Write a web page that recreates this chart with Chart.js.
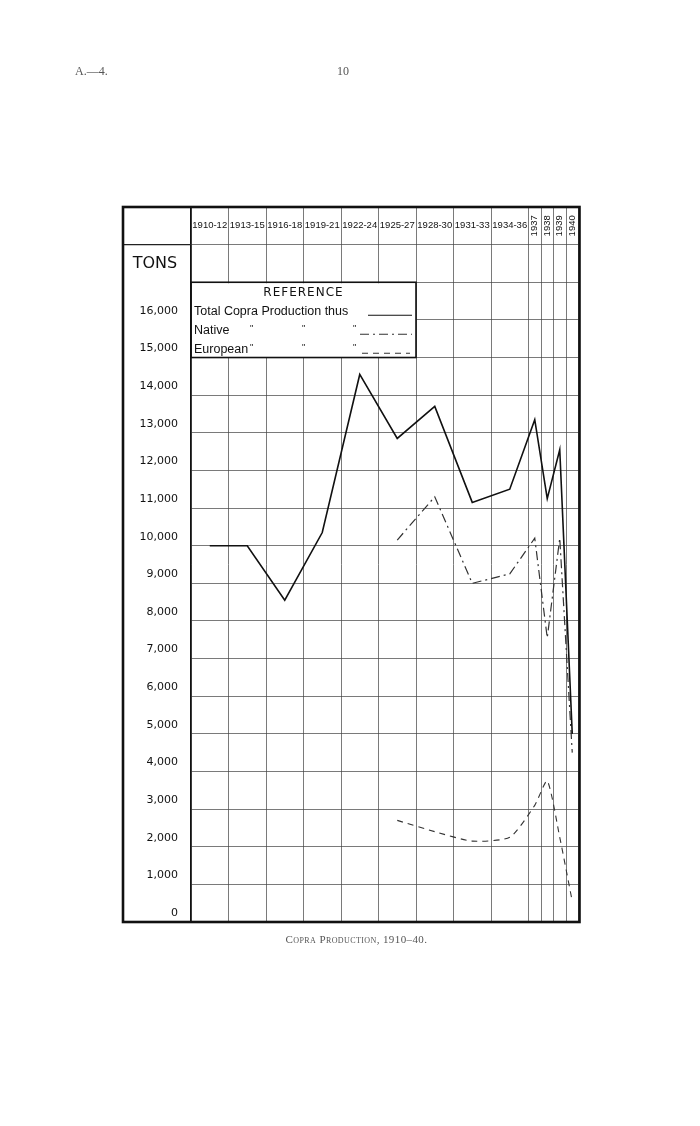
<!DOCTYPE html>
<html>
<head>
<meta charset="utf-8">
<script src="https://cdn.jsdelivr.net/npm/chart.js@4.4.1/dist/chart.umd.min.js"></script>
<style>
html, body { margin: 0; padding: 0; background: #fff; }
#wrap { position: relative; width: 700px; height: 1126px; }
canvas { position: absolute; left: 0; top: 0; }
.hd { position: absolute; font-family: "Liberation Serif", "DejaVu Serif", serif; color: #555; font-size: 12px; }
</style>
</head>
<body>
<div id="wrap">
  <canvas id="copra" width="700" height="1126"></canvas>
  <div class="hd" style="left:75px;top:64px">A.—4.</div>
  <div class="hd" style="left:337px;top:64px">10</div>
  <div class="hd" style="left:0;width:713px;text-align:center;top:933px;font-variant:small-caps;font-size:11px;letter-spacing:0.4px">Copra Production, 1910–40.</div>
</div>
<script>
// columns of the sheet: 3-year periods then single years
var periods = ['1910-12', '1913-15', '1916-18', '1919-21', '1922-24', '1925-27', '1928-30', '1931-33', '1934-36', '1937', '1938', '1939', '1940'];
var periodStart = [1910, 1913, 1916, 1919, 1922, 1925, 1928, 1931, 1934, 1937, 1938, 1939, 1940];
var periodYears = [3, 3, 3, 3, 3, 3, 3, 3, 3, 1, 1, 1, 1];

// tons
var totalTons    = [10000, 10000, 8550, 10350, 14550, 12850, 13700, 11150, 11500, 13350, 11250, 12550, 5000];
var nativeTons   = [null, null, null, null, null, 10150, 11300, 9000, 9250, 10200, 7550, 10200, 4500];
var europeanTons = [null, null, null, null, null, 2700, 2400, 2150, 2250, 3100, 3750, 2250, 550];

var tonLabelMax = 16000;   // highest labelled row
var sheetTop = 19000;      // top of the ruled sheet (header row + TONS row above the scale)

var legendTitle = 'REFERENCE';
var legendRows = ['Total Copra Production thus', 'Native', 'European'];

function points(vals) {
    var out = [];
    for (var i = 0; i < vals.length; i++) {
        if (vals[i] === null) continue;
        out.push({ x: periodStart[i] + periodYears[i] / 2, y: vals[i] });
    }
    return out;
}

var gridColor = 'rgba(70,70,70,0.8)';

var sheet = {
    id: 'sheet',
    afterDraw: function (chart) {
        var ctx = chart.ctx, a = chart.chartArea;
        var xs = chart.scales.x, ys = chart.scales.y;
        var left = 123;
        ctx.save();

        // line under header row runs through the label column too
        var yHead = ys.getPixelForValue(18000);
        ctx.strokeStyle = '#222';
        ctx.lineWidth = 1.2;
        ctx.beginPath(); ctx.moveTo(left, yHead); ctx.lineTo(a.left, yHead); ctx.stroke();

        ctx.fillStyle = '#111';
        ctx.textAlign = 'center';
        ctx.textBaseline = 'middle';
        ctx.font = '16px "DejaVu Sans"';
        ctx.fillText('TONS', (left + a.left) / 2 - 2, ys.getPixelForValue(17500));

        // column headings
        ctx.font = '9.5px "Liberation Sans"';
        var yMid = ys.getPixelForValue(18500);
        periods.forEach(function (p, i) {
            var cx = xs.getPixelForValue(periodStart[i] + periodYears[i] / 2);
            if (periodYears[i] > 1) {
                ctx.fillText(p, cx, yMid);
            } else {
                ctx.save();
                ctx.translate(cx, yMid);
                ctx.rotate(-Math.PI / 2);
                ctx.fillText(p, 0, 0);
                ctx.restore();
            }
        });

        // reference box
        var bx0 = a.left, bx1 = xs.getPixelForValue(1928);
        var by0 = ys.getPixelForValue(17000), by1 = ys.getPixelForValue(15000);
        ctx.fillStyle = '#fff';
        ctx.fillRect(bx0 + 1, by0 + 1, bx1 - bx0 - 1, by1 - by0 - 1);
        ctx.strokeStyle = '#111';
        ctx.lineWidth = 1.6;
        ctx.strokeRect(bx0, by0, bx1 - bx0, by1 - by0);

        ctx.fillStyle = '#111';
        ctx.font = '12px "DejaVu Sans"';
        ctx.letterSpacing = '1px';
        ctx.fillText(legendTitle, (bx0 + bx1) / 2, by0 + 11);
        ctx.letterSpacing = '0px';
        ctx.textAlign = 'left';
        ctx.font = '12.5px "Liberation Sans"';
        var rowY = [by0 + 29, by0 + 48, by0 + 67];
        legendRows.forEach(function (t, i) { ctx.fillText(t, bx0 + 3, rowY[i]); });
        ctx.font = '9px "Liberation Sans"';
        [bx0 + 59, bx0 + 111, bx0 + 162].forEach(function (dx) {
            ctx.fillText('"', dx, rowY[1] - 2);
            ctx.fillText('"', dx, rowY[2] - 2);
        });

        var samples = chart.data.datasets;
        var sx = [[bx0 + 177, bx1 - 4], [bx0 + 169, bx1 - 4], [bx0 + 171, bx1 - 6]];
        samples.forEach(function (ds, i) {
            ctx.strokeStyle = ds.borderColor;
            ctx.lineWidth = 1.1;
            ctx.setLineDash(ds.borderDash || []);
            ctx.beginPath();
            ctx.moveTo(sx[i][0], rowY[i] + 4);
            ctx.lineTo(sx[i][1], rowY[i] + 4);
            ctx.stroke();
        });
        ctx.setLineDash([]);

        // outer frame
        ctx.strokeStyle = '#111';
        ctx.lineWidth = 2.6;
        ctx.strokeRect(left, a.top, a.right - left + 1, a.bottom - a.top);
        ctx.restore();
    }
};

new Chart('copra', {
    type: 'line',
    data: {
        datasets: [{
            label: 'Total',
            data: points(totalTons),
            borderColor: '#111',
            borderWidth: 1.6,
            pointRadius: 0,
            tension: 0
        }, {
            label: 'Native',
            data: points(nativeTons),
            borderColor: '#333',
            borderWidth: 1.2,
            borderDash: [9, 4, 2, 4],
            pointRadius: 0,
            tension: 0
        }, {
            label: 'European',
            data: points(europeanTons),
            borderColor: '#333',
            borderWidth: 1.1,
            borderDash: [6, 5],
            pointRadius: 0,
            tension: 0.2
        }]
    },
    options: {
        responsive: false,
        animation: false,
        layout: { padding: { left: 123, right: 121.5, top: 207, bottom: 204 } },
        plugins: { legend: { display: false }, tooltip: { enabled: false } },
        scales: {
            x: {
                type: 'linear',
                min: 1910,
                max: 1941,
                grid: { color: gridColor, lineWidth: 0.9, drawTicks: false },
                border: { display: false },
                ticks: { display: false },
                afterBuildTicks: function (s) {
                    var t = periodStart.map(function (v) { return { value: v }; });
                    t.push({ value: 1941 });
                    s.ticks = t;
                },
                afterFit: function (s) {
                    s.height = 0;
                    s.paddingLeft = 0;
                    s.paddingRight = 0;
                }
            },
            y: {
                min: 0,
                max: sheetTop,
                grid: { color: gridColor, lineWidth: 0.9, drawTicks: false },
                border: { color: '#111', width: 1.6 },
                ticks: {
                    stepSize: 1000,
                    autoSkip: false,
                    padding: 13,
                    labelOffset: -9,
                    color: '#111',
                    font: { family: 'DejaVu Sans', size: 11 },
                    callback: function (v) { return v <= tonLabelMax ? v.toLocaleString('en-US') : ''; }
                },
                afterFit: function (s) {
                    s.width = 68;
                    s.paddingTop = 0;
                    s.paddingBottom = 0;
                }
            }
        }
    },
    plugins: [sheet]
});
</script>
</body>
</html>
